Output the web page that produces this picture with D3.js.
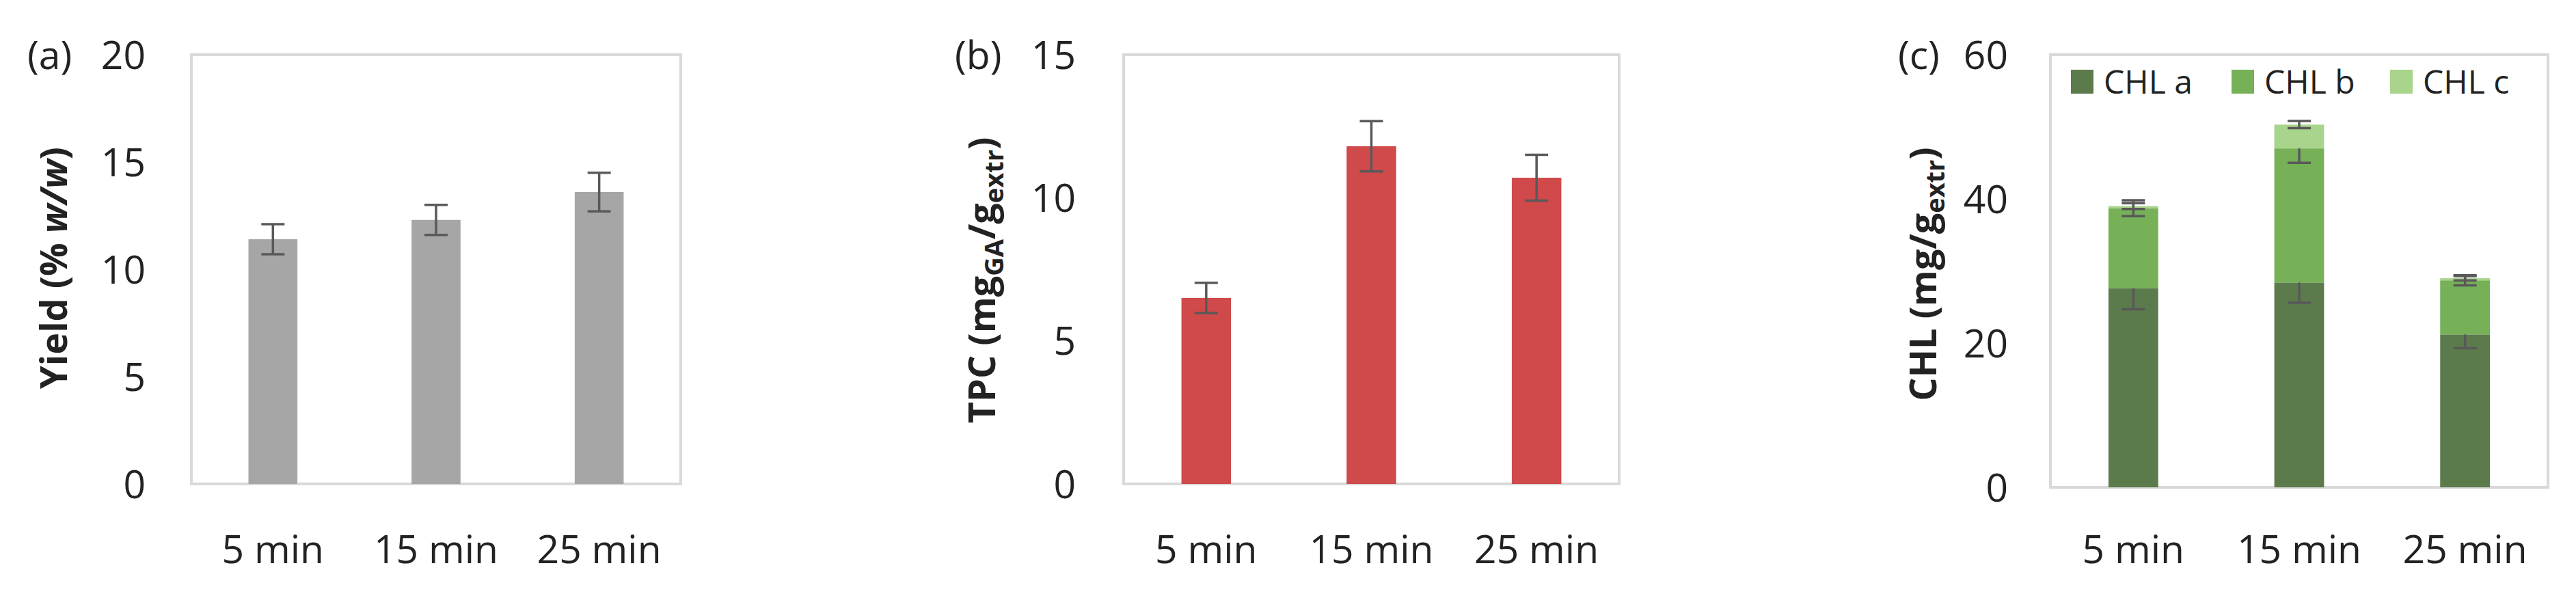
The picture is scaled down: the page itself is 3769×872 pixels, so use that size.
<!DOCTYPE html>
<html>
<head>
<meta charset="utf-8">
<script src="https://cdn.jsdelivr.net/npm/d3@7"></script>
<style>
body { margin: 0; background: #fff; }
text { font-family: 'Open Sans', 'Noto Sans', sans-serif; fill: #222; }
</style>
</head>
<body>
<script>
// data
const times = ['5 min', '15 min', '25 min']
const yieldVals = [11.4, 12.3, 13.6]
const yieldErr = [0.7, 0.7, 0.9]
const tpcVals = [6.5, 11.8, 10.7]
const tpcErr = [0.53, 0.88, 0.8]
const chlSeries = ['CHL a', 'CHL b', 'CHL c']
const chlA = [27.6, 28.4, 21.2]
const chlAErr = [2.9, 2.8, 1.9]
const chlB = [11.1, 18.6, 7.5]
const chlBErr = [1.1, 2.0, 0.7]
const chlC = [0.3, 3.3, 0.3]
const chlCErr = [0.4, 0.5, 0.3]
const ticksA = [0, 5, 10, 15, 20]
const ticksB = [0, 5, 10, 15]
const ticksC = [0, 20, 40, 60]

const W = 3769, H = 872
const svg = d3.select('body').append('svg')
    .attr('width', W).attr('height', H)

const errColor = '#595959'
const greens = ['#5c7b4c', '#76b057', '#a8d48c']
const fs = 57

function panel(opt) {
    const g = svg.append('g')
    const x = d3.scalePoint().domain(times).range([opt.left, opt.right]).padding(0.5)
    const bw = x.step() * 0.3
    const y = d3.scaleLinear().domain([0, opt.max]).range([opt.bottom, opt.top])

    g.append('rect')
        .attr('x', opt.left).attr('y', opt.top)
        .attr('width', opt.right - opt.left).attr('height', opt.bottom - opt.top)
        .attr('fill', 'none').attr('stroke', '#d9d9d9').attr('stroke-width', 4)

    // ticks
    g.selectAll('.tick').data(opt.ticks).enter().append('text')
        .attr('x', opt.tickRight).attr('y', d => y(d))
        .attr('dy', '0.36em').attr('text-anchor', 'end')
        .attr('font-size', fs).text(d => d)

    g.selectAll('.xl').data(times).enter().append('text')
        .attr('x', d => x(d)).attr('y', 824)
        .attr('text-anchor', 'middle').attr('font-size', fs).text(d => d)

    g.append('text').attr('x', opt.tag).attr('y', y(opt.max))
        .attr('dy', '0.36em').attr('font-size', fs).text(opt.tagText)

    // y label
    const lbl = g.append('text')
        .attr('transform', `translate(${opt.labelX},${opt.labelY}) rotate(-90)`)
        .attr('text-anchor', 'middle').attr('dy', '0.36em')
        .attr('font-size', 54).attr('font-weight', 'bold')
    opt.label(lbl)

    // bars
    let base = times.map(() => 0)
    opt.series.forEach(s => {
        g.selectAll(null).data(times).enter().append('rect')
            .attr('x', d => x(d) - bw / 2)
            .attr('width', bw)
            .attr('y', (d, i) => y(base[i] + s.vals[i]))
            .attr('height', (d, i) => y(base[i]) - y(base[i] + s.vals[i]))
            .attr('fill', s.color)
        const tops = s.vals.map((v, i) => base[i] + v)
        const cap = 17
        times.forEach((t, i) => {
            const cx = x(t)
            const hi = y(tops[i] + s.err[i]), lo = y(tops[i] - s.err[i])
            g.append('path')
                .attr('d', `M${cx},${hi}V${lo}M${cx - cap},${hi}H${cx + cap}M${cx - cap},${lo}H${cx + cap}`)
                .attr('stroke', errColor).attr('stroke-width', 3.5).attr('fill', 'none')
        })
        base = tops
    })
    return g
}

panel({
    left: 280, right: 996, top: 80, bottom: 708, max: 20, ticks: ticksA,
    tickRight: 213, tag: 40, tagText: '(a)', labelX: 79, labelY: 392,
    series: [{vals: yieldVals, err: yieldErr, color: '#a6a6a6'}],
    label: t => {
        t.append('tspan').text('Yield (% ')
        t.append('tspan').attr('font-style', 'italic').text('w/w')
        t.append('tspan').text(')')
    }
})

panel({
    left: 1644, right: 2369, top: 80, bottom: 708, max: 15, ticks: ticksB,
    tickRight: 1574, tag: 1397, tagText: '(b)', labelX: 1437, labelY: 410,
    series: [{vals: tpcVals, err: tpcErr, color: '#d0494b'}],
    label: t => {
        t.append('tspan').text('TPC (mg')
        t.append('tspan').attr('font-size', 38).attr('dy', 12).text('GA')
        t.append('tspan').attr('dy', -12).text('/g')
        t.append('tspan').attr('font-size', 38).attr('dy', 12).text('extr')
        t.append('tspan').attr('dy', -12).text(')')
    }
})

const gc = panel({
    left: 3000, right: 3728, top: 80, bottom: 713, max: 60, ticks: ticksC,
    tickRight: 2938, tag: 2777, tagText: '(c)', labelX: 2814, labelY: 401,
    series: [
        {vals: chlA, err: chlAErr, color: greens[0]},
        {vals: chlB, err: chlBErr, color: greens[1]},
        {vals: chlC, err: chlCErr, color: greens[2]}
    ],
    label: t => {
        t.append('tspan').text('CHL (mg/g')
        t.append('tspan').attr('font-size', 38).attr('dy', 12).text('extr')
        t.append('tspan').attr('dy', -12).text(')')
    }
})

// legend
const legX = [3030, 3265, 3497]
chlSeries.forEach((s, i) => {
    gc.append('rect').attr('x', legX[i]).attr('y', 102)
        .attr('width', 33).attr('height', 35).attr('fill', greens[i])
    gc.append('text').attr('x', legX[i] + 48).attr('y', 120)
        .attr('dy', '0.36em').attr('font-size', 48).text(s)
})
</script>
</body>
</html>
